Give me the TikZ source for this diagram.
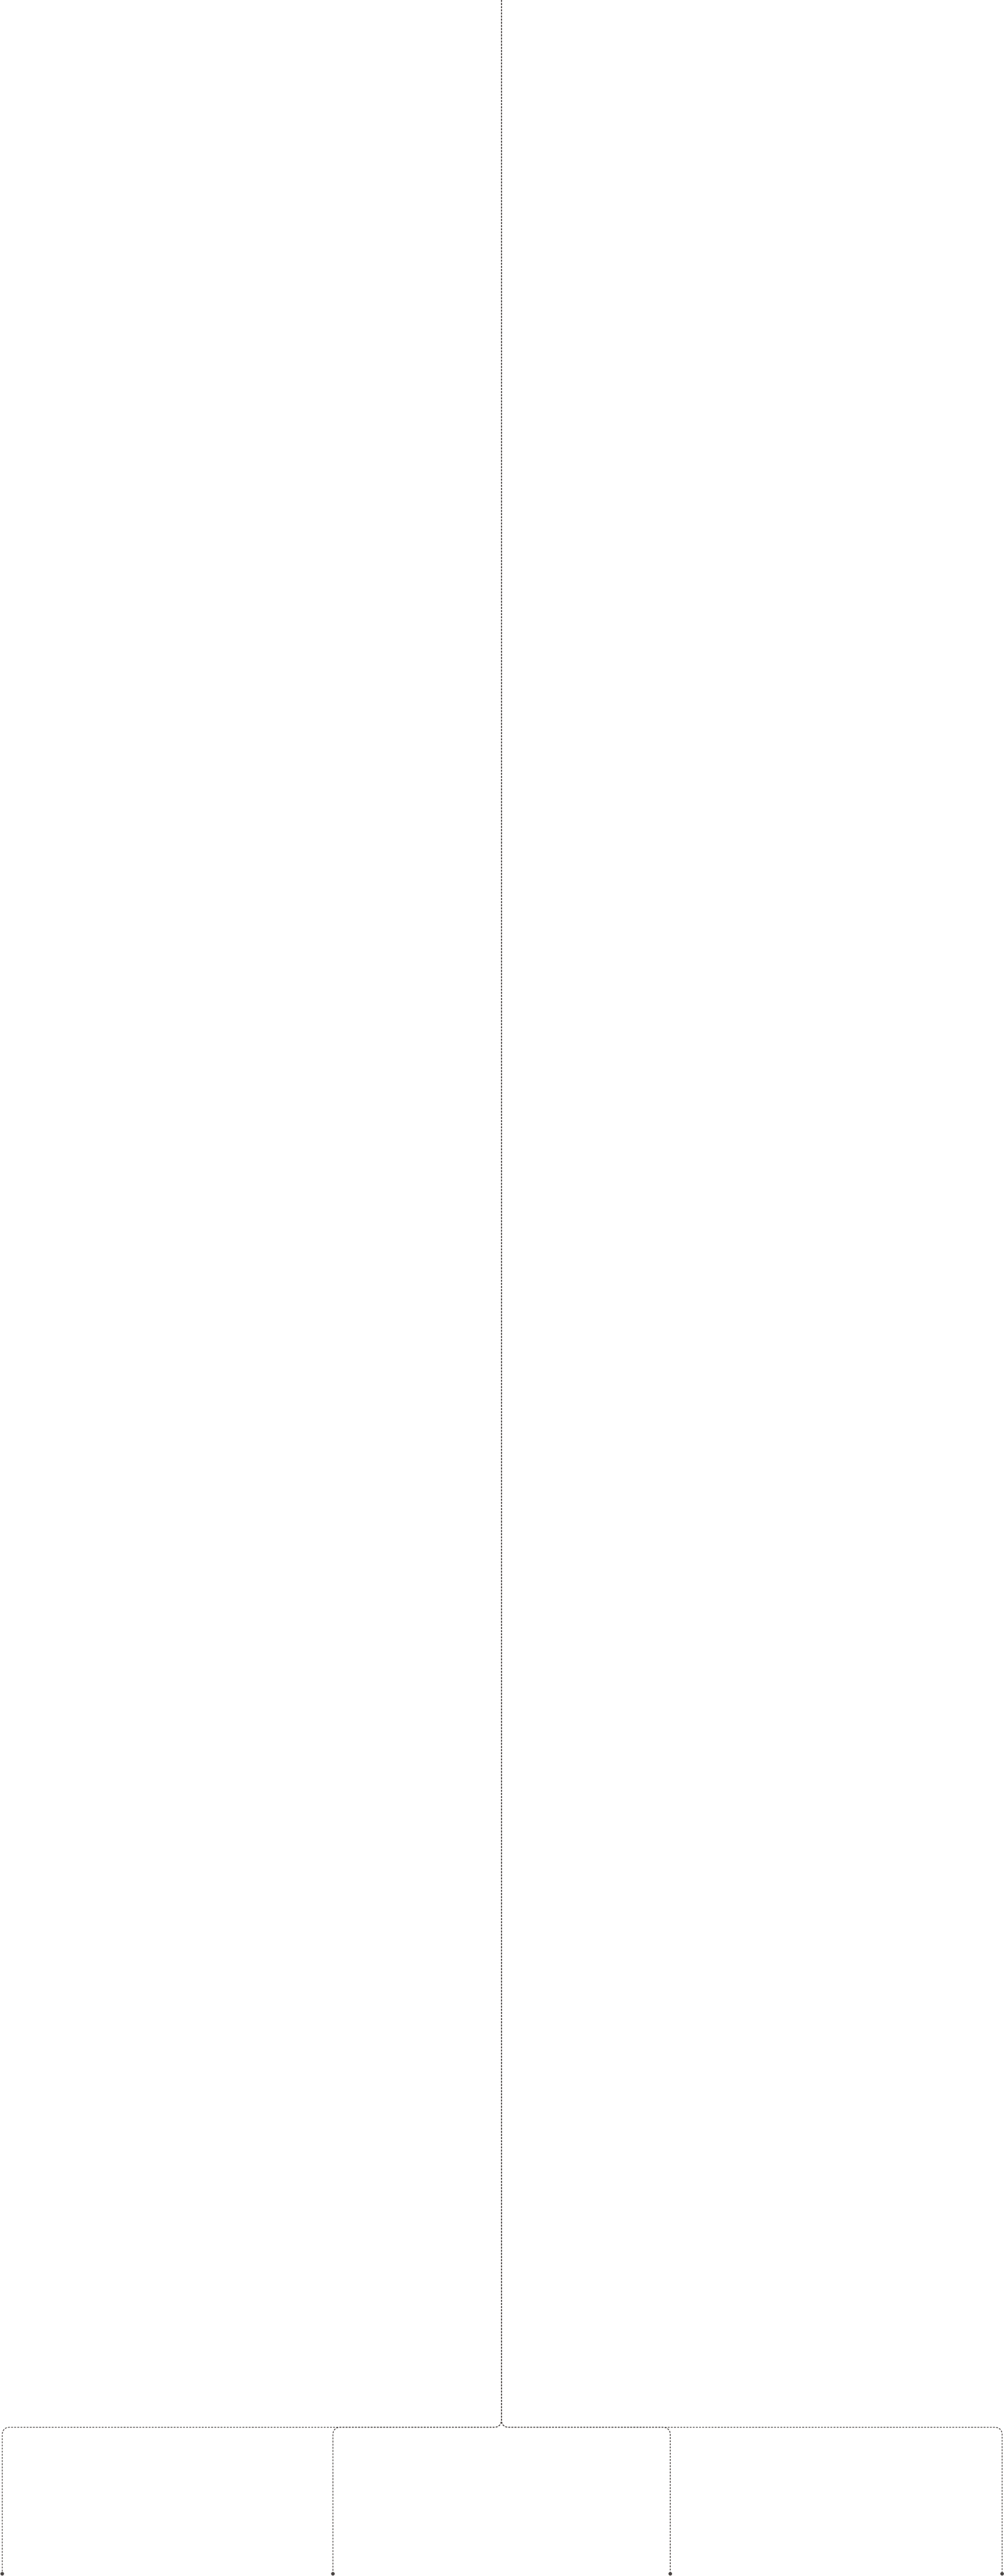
\documentclass[tikz,border=0pt]{standalone}
\begin{document}
\begin{tikzpicture}[
  x=1cm,y=1cm,
  link/.style={draw=linkgray, line width=0.02cm, dash pattern=on 0.05cm off 0.035cm, rounded corners=0.18cm},
  enddot/.style={circle, fill=linkgray, inner sep=0pt, minimum size=0.1cm}
]
\definecolor{linkgray}{HTML}{4A4543}
\useasboundingbox (0,0) rectangle (27.29,69.98);
\coordinate (src) at (13.63,69.98);
\node[enddot] (d1) at (0.06,0.06) {};
\node[enddot] (d2) at (9.05,0.06) {};
\node[enddot] (d3) at (18.22,0.06) {};
\node[enddot] (d4) at (27.24,0.06) {};
\draw[link] (src) -- (13.63,4.04) -| (d1.center);
\draw[link] (src) -- (13.63,4.04) -| (d2.center);
\draw[link] (src) -- (13.63,4.04) -| (d3.center);
\draw[link] (src) -- (13.63,4.04) -| (d4.center);
\end{tikzpicture}
\end{document}
